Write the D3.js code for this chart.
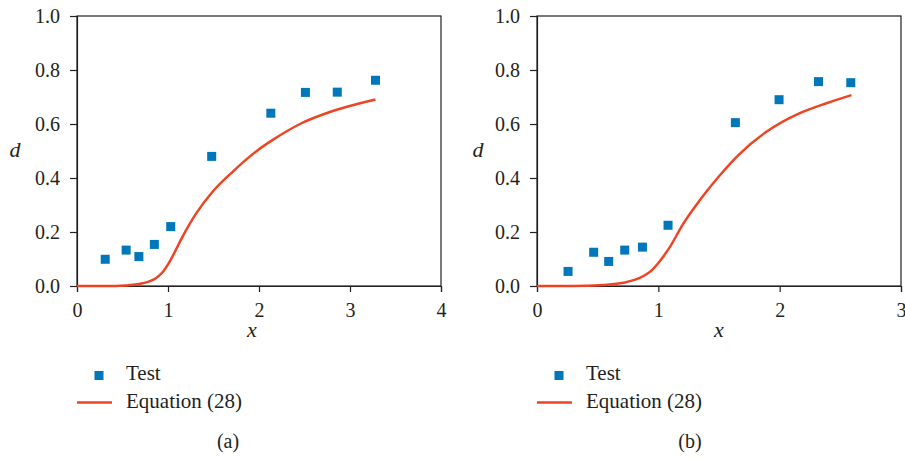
<!DOCTYPE html>
<html>
<head>
<meta charset="utf-8">
<script src="https://cdn.jsdelivr.net/npm/d3@7"></script>
</head>
<body style="margin:0">
<script>
// panel (a)
let test_a_x = [0.31, 0.54, 0.68, 0.85, 1.03, 1.48, 2.13, 2.51, 2.86, 3.28];
let test_a_d = [0.099, 0.133, 0.109, 0.154, 0.22, 0.48, 0.64, 0.717, 0.718, 0.762];
let eq_a_x = [0, 0.3, 0.54, 0.72, 0.87, 0.95, 1.0, 1.05, 1.16, 1.31, 1.49, 1.71, 1.99, 2.16, 2.45, 2.81, 3.28];
let eq_a_d = [0, 0, 0.002, 0.01, 0.03, 0.055, 0.08, 0.11, 0.183, 0.269, 0.349, 0.423, 0.504, 0.543, 0.60, 0.648, 0.691];
let ticks_a_x = [0, 1, 2, 3, 4];

// panel (b)
let test_b_x = [0.256, 0.467, 0.591, 0.723, 0.869, 1.08, 1.635, 1.995, 2.32, 2.586];
let test_b_d = [0.054, 0.125, 0.091, 0.133, 0.144, 0.225, 0.605, 0.69, 0.757, 0.753];
let eq_b_x = [0, 0.3, 0.547, 0.712, 0.877, 0.95, 1.0, 1.05, 1.097, 1.207, 1.344, 1.509, 1.66, 1.891, 2.166, 2.386, 2.592];
let eq_b_d = [0, 0, 0.004, 0.012, 0.037, 0.06, 0.085, 0.115, 0.146, 0.232, 0.319, 0.411, 0.485, 0.571, 0.64, 0.677, 0.707];
let ticks_b_x = [0, 1, 2, 3];

let ticks_d = [0, 0.2, 0.4, 0.6, 0.8, 1.0];
let legend_names = ['Test', 'Equation (28)'];

let blue = '#0077bb';
let red = '#ef4423';
let ink = '#231f20';
let font_name = "'Liberation Serif', monospace";

let svg = d3.select('body').append('svg')
    .attr('width', 905)
    .attr('height', 460);

function label(g, txt, x, y, size) {
    return g.append('text')
        .text(txt)
        .attr('x', x)
        .attr('y', y)
        .attr('fill', ink)
        .style('font-family', font_name)
        .style('font-size', size + 'px');
}

function draw_panel(opt) {
    let xScale = d3.scaleLinear().domain(opt.xdomain).range([opt.left, opt.right]);
    let yScale = d3.scaleLinear().domain([0, 1]).range([286, 16]);
    let g = svg.append('g');

    // frame
    g.append('rect')
        .attr('x', opt.left).attr('y', 16)
        .attr('width', opt.right - opt.left).attr('height', 270)
        .attr('fill', 'none').attr('stroke', ink).attr('stroke-width', 1.2);

    let xAxis = g.append('g')
        .attr('transform', 'translate(0,286)')
        .call(d3.axisBottom(xScale).tickValues(opt.xticks).tickFormat(d3.format('d')).tickSize(6).tickPadding(11));
    let yAxis = g.append('g')
        .attr('transform', 'translate(' + opt.left + ',0)')
        .call(d3.axisLeft(yScale).tickValues(ticks_d).tickFormat(d3.format('.1f')).tickSize(7).tickPadding(10));
    [xAxis, yAxis].forEach(ax => {
        ax.select('.domain').attr('stroke', ink).attr('stroke-width', 1.2);
        ax.selectAll('line').attr('stroke', ink).attr('stroke-width', 1.2);
        ax.selectAll('text').attr('fill', ink)
            .style('font-family', font_name)
            .style('font-size', '20px');
    });

    // equation curve
    let line = d3.line()
        .x(d => xScale(d[0]))
        .y(d => yScale(d[1]))
        .curve(d3.curveMonotoneX);
    g.append('path')
        .datum(opt.ex.map((v, i) => [v, opt.ed[i]]))
        .attr('d', line)
        .attr('fill', 'none')
        .attr('stroke', red)
        .attr('stroke-width', 2.5);

    // test points
    g.append('g')
        .selectAll('rect')
        .data(opt.tx.map((v, i) => [v, opt.td[i]]))
        .enter()
        .append('rect')
        .attr('x', d => xScale(d[0]) - 4.5)
        .attr('y', d => yScale(d[1]) - 4.5)
        .attr('width', 9)
        .attr('height', 9)
        .attr('fill', blue);

    // axis titles
    label(g, 'x', opt.xlabel, 337, 22).attr('text-anchor', 'middle').style('font-style', 'italic');
    label(g, 'd', opt.dlabel, 157, 22).attr('text-anchor', 'middle').style('font-style', 'italic');

    // legend
    g.append('rect')
        .attr('x', opt.lx + 17.5).attr('y', 371)
        .attr('width', 9).attr('height', 9)
        .attr('fill', blue);
    g.append('line')
        .attr('x1', opt.lx).attr('x2', opt.lx + 35)
        .attr('y1', 402.5).attr('y2', 402.5)
        .attr('stroke', red).attr('stroke-width', 2.5);
    legend_names.forEach((name, i) => {
        label(g, name, opt.lx + 49, 380 + i * 28, 21);
    });

    label(g, opt.tag, opt.tagx, 448, 20).attr('text-anchor', 'middle');
}

draw_panel({
    xdomain: [0, 4], xticks: ticks_a_x, left: 77, right: 441,
    tx: test_a_x, td: test_a_d, ex: eq_a_x, ed: eq_a_d,
    xlabel: 252, dlabel: 15, lx: 77, tag: '(a)', tagx: 228
});
draw_panel({
    xdomain: [0, 3], xticks: ticks_b_x, left: 537, right: 901,
    tx: test_b_x, td: test_b_d, ex: eq_b_x, ed: eq_b_d,
    xlabel: 719, dlabel: 478, lx: 537, tag: '(b)', tagx: 690
});
</script>
</body>
</html>
